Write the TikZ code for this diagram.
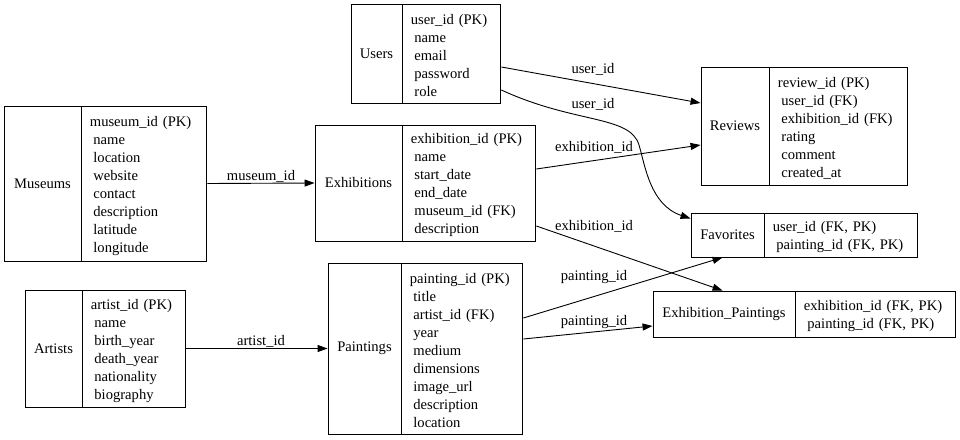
\documentclass[tikz,border=0pt]{standalone}
\usepackage{fontspec}
\setmainfont{Liberation Serif}
\usetikzlibrary{arrows.meta}

\tikzset{
  tname/.style={draw, inner sep=0pt, font=\fontsize{14.6pt}{18pt}\selectfont},
  tfields/.style={draw, anchor=west, align=left, inner xsep=8pt, inner ysep=0pt,
    font=\fontsize{14.6pt}{18pt}\selectfont, execute at begin node={\rule{0pt}{15pt}}},
  fk/.style={-{Triangle[length=10pt,width=7pt]}},
  lbl/.style={inner sep=0pt, font=\fontsize{14.6pt}{18pt}\selectfont}
}
\newcommand{\attr}[1]{\hspace*{3.5pt}#1}

\begin{document}
\begin{tikzpicture}[x=1pt, y=-1pt, line width=0.9pt]
\useasboundingbox (0,0) rectangle (960,439);

% ---------------------------
% tables
% ---------------------------
\node[tname, minimum width=77pt, minimum height=155pt] (museums) at (42.5,183.5) {Museums};
\node[tfields, text width=109pt, minimum height=155pt] (museumsf) at (museums.east)
  {museum\_id (PK)\\\attr{name}\\\attr{location}\\\attr{website}\\\attr{contact}\\\attr{description}\\\attr{latitude}\\\attr{longitude}};

\node[tname, minimum width=87pt, minimum height=116pt] (exhib) at (358.5,183) {Exhibitions};
\node[tfields, text width=117pt, minimum height=116pt] (exhibf) at (exhib.east)
  {exhibition\_id (PK)\\\attr{name}\\\attr{start\_date}\\\attr{end\_date}\\\attr{museum\_id (FK)}\\\attr{description}};

\node[tname, minimum width=51pt, minimum height=99pt] (users) at (376.5,53.5) {Users};
\node[tfields, text width=82pt, minimum height=99pt] (usersf) at (users.east)
  {user\_id (PK)\\\attr{name}\\\attr{email}\\\attr{password}\\\attr{role}};

\node[tname, minimum width=68pt, minimum height=118pt] (reviews) at (735,126) {Reviews};
\node[tfields, text width=122pt, minimum height=118pt] (reviewsf) at (reviews.east)
  {review\_id (PK)\\\attr{user\_id (FK)}\\\attr{exhibition\_id (FK)}\\\attr{rating}\\\attr{comment}\\\attr{created\_at}};

\node[tname, minimum width=73pt, minimum height=44pt] (favorites) at (727.5,235) {Favorites};
\node[tfields, text width=137pt, minimum height=44pt] (favoritesf) at (favorites.east)
  {user\_id (FK, PK)\\\attr{painting\_id (FK, PK)}};

\node[tname, minimum width=142pt, minimum height=46pt] (exhpaint) at (724,314) {Exhibition\_Paintings};
\node[tfields, text width=144pt, minimum height=46pt] (exhpaintf) at (exhpaint.east)
  {exhibition\_id (FK, PK)\\\attr{painting\_id (FK, PK)}};

\node[tname, minimum width=57pt, minimum height=117pt] (artists) at (53.5,348.5) {Artists};
\node[tfields, text width=87pt, minimum height=117pt] (artistsf) at (artists.east)
  {artist\_id (PK)\\\attr{name}\\\attr{birth\_year}\\\attr{death\_year}\\\attr{nationality}\\\attr{biography}};

\node[tname, minimum width=73pt, minimum height=171pt] (paintings) at (364.5,348.5) {Paintings};
\node[tfields, text width=105pt, minimum height=171pt] (paintingsf) at (paintings.east)
  {painting\_id (PK)\\\attr{title}\\\attr{artist\_id (FK)}\\\attr{year}\\\attr{medium}\\\attr{dimensions}\\\attr{image\_url}\\\attr{description}\\\attr{location}};

% ---------------------------
% foreign keys
% ---------------------------
\draw[fk] (museumsf.east) -- (exhib.west);
\draw[fk] (artistsf.east) -- (paintings.west);
\draw[fk] ([yshift=-13.5pt]usersf.east) -- ([yshift=23pt]reviews.west);
\draw[fk] ([yshift=-36.5pt]usersf.east) .. controls (575,124) and (630,115) .. (639,145)
  .. controls (645,165) and (650,205) .. ([yshift=-6pt]favorites.north west);
\draw[fk] ([yshift=14pt]exhibf.east) -- ([yshift=-19pt]reviews.west);
\draw[fk] ([yshift=-43pt]exhibf.east) -- ([xshift=70pt]exhpaint.north west);
\draw[fk] ([yshift=30.5pt]paintingsf.east) -- ([xshift=32pt]favorites.south west);
\draw[fk] ([yshift=9.5pt]paintingsf.east) -- ([yshift=-12pt]exhpaint.west);

\node[lbl] (lmus) at (261,176) {museum\_id};
\node[lbl] (lart) at (261,341) {artist\_id};
\node[lbl] (lusr1) at (593,69) {user\_id};
\node[lbl] (lusr2) at (593,104) {user\_id};
\node[lbl] (lexh1) at (594,147) {exhibition\_id};
\node[lbl] (lexh2) at (594,226) {exhibition\_id};
\node[lbl] (lpnt1) at (594,277) {painting\_id};
\node[lbl] (lpnt2) at (594,322) {painting\_id};

\end{tikzpicture}
\end{document}
